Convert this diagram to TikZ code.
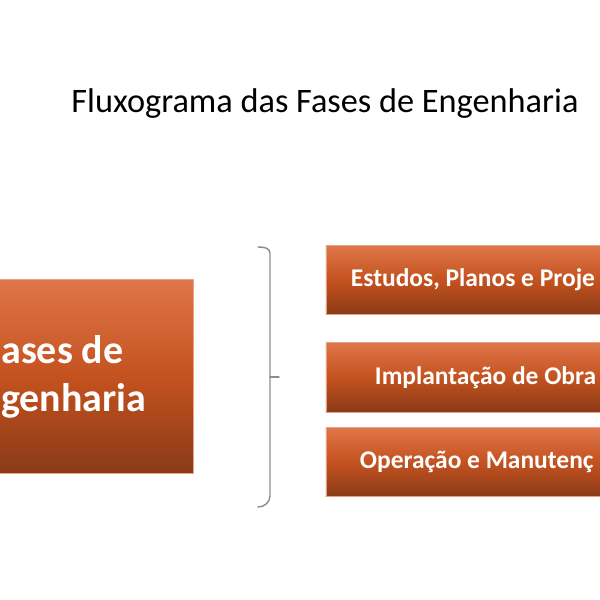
\documentclass[tikz,border=0pt]{standalone}
\usepackage{fontspec}
\setmainfont{Carlito}
\definecolor{laranjaTopo}{HTML}{DF7649}
\definecolor{laranjaMeio}{HTML}{C4521F}
\definecolor{laranjaBase}{HTML}{8A3A18}
\definecolor{bordaCaixa}{HTML}{E9A283}
\definecolor{chave}{HTML}{8C8A98}

\begin{document}
\begin{tikzpicture}[line cap=round,line join=round,x=0.025cm,y=0.025cm,
		caixa/.style={draw=bordaCaixa,line width=0.5pt,rectangle,inner sep=0pt,
			top color=laranjaTopo,bottom color=laranjaBase,middle color=laranjaMeio,
			text=white,font=\bfseries},
		fasebox/.style={caixa,minimum width=7.05cm,minimum height=4.85cm},
		fasetexto/.style={text=white,inner sep=0pt,align=flush left,
			font=\fontsize{28.4}{34.1}\selectfont\bfseries},
		etapabox/.style={caixa,minimum width=8.4cm,minimum height=1.74cm,align=flush left,
			font=\fontsize{18.1}{22}\selectfont\bfseries}]
				\path[use as bounding box,clip] (0,0) rectangle (600,600);
				\fill[white] (0,0) rectangle (600,600);
				% titulo
				\node[anchor=base,font=\fontsize{24.4}{29}\selectfont] (titulo) at (325,487) {Fluxograma das Fases de Engenharia};
				% caixa da esquerda
				\node[fasebox] (fases) at (52,223.5) {};
				\node[fasetexto,anchor=west] (fasesrotulo) at (1,223.5) {ases de\\genharia};
				% chave
				\draw [line width=1pt,color=chave] (258,353) to[out=0,in=90] (270,347) -- (270,104) to[out=-90,in=0] (258,93);
				\draw [line width=1pt,color=chave] (270,223) -- (279,223);
				% caixas da direita
				\node[etapabox,text width=7.15cm] (estudos) at (494,320) {Estudos, Planos e Proje};
				\node[etapabox,text width=5.95cm] (implantacao) at (494,222.5) {Implantação de Obra};
				\node[etapabox,text width=6.7cm] (operacao) at (494,138) {Operação e Manutenç};
			\end{tikzpicture}
\end{document}
